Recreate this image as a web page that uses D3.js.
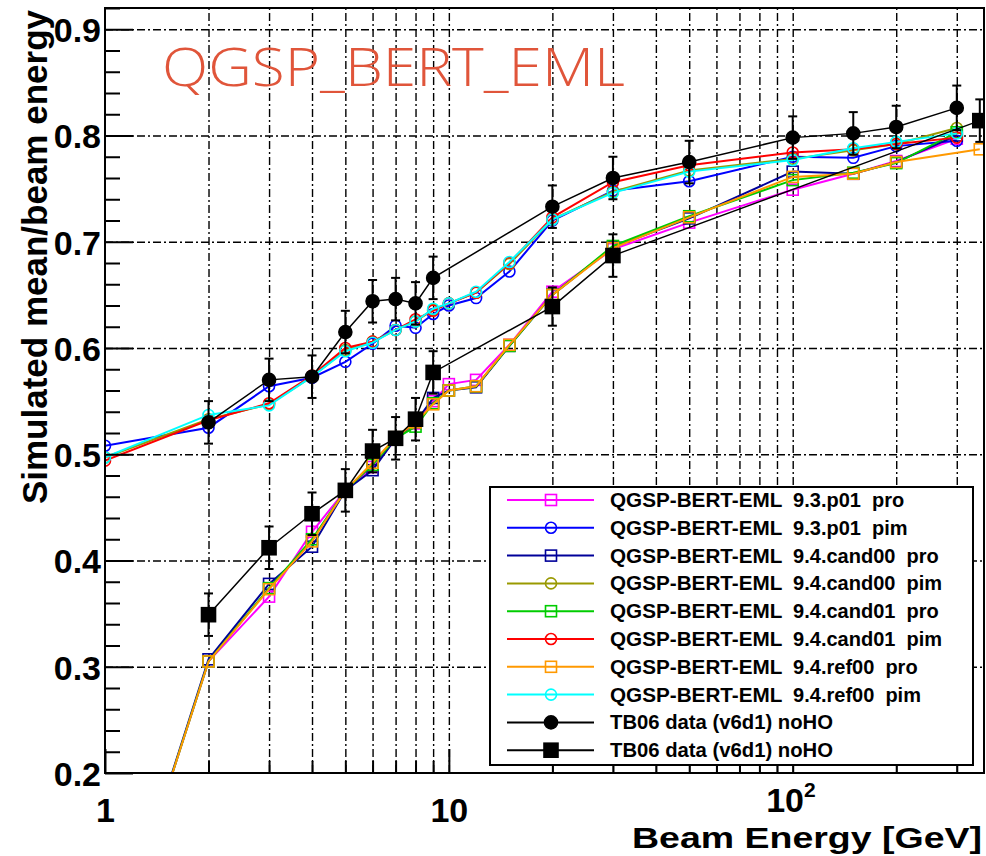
<!DOCTYPE html>
<html><head><meta charset="utf-8">
<script src="https://cdn.jsdelivr.net/npm/d3@7"></script>
<style>
html,body{margin:0;padding:0;background:#fff;}
svg{display:block;}
</style></head><body>
<svg id="c" width="986" height="856"></svg>
<script>
// ---------- data ----------
const simE    = [1,2,3,4,5,6,7,8,9,10,12,15,20,30,50,100,150,200,300];
const refProE = [1,2,3,4,5,6,7,8,9,10,12,15,20,30,50,100,150,200,350];

const p93_pro    = [0.003,0.305,0.366,0.427,0.466,0.488,0.514,0.529,0.550,0.566,0.570,0.603,0.653,0.693,0.718,0.749,0.764,0.776,0.797];
const p93_pim    = [0.508,0.525,0.564,0.572,0.587,0.604,0.621,0.619,0.632,0.640,0.647,0.672,0.720,0.748,0.757,0.780,0.779,0.790,0.795];
const c00_pro    = [0.003,0.307,0.378,0.413,0.466,0.485,0.515,0.530,0.553,0.560,0.563,0.602,0.650,0.695,0.722,0.766,0.764,0.775,0.800];
const c00_pim    = [0.497,0.533,0.547,0.573,0.598,0.606,0.617,0.625,0.636,0.642,0.652,0.679,0.721,0.747,0.767,0.778,0.786,0.792,0.807];
const c01_pro    = [0.003,0.305,0.374,0.420,0.466,0.490,0.515,0.526,0.548,0.560,0.564,0.602,0.650,0.696,0.724,0.758,0.765,0.774,0.803];
const c01_pim    = [0.494,0.532,0.548,0.574,0.600,0.606,0.617,0.627,0.635,0.642,0.652,0.680,0.723,0.756,0.772,0.784,0.787,0.792,0.798];
const ref00_pro  = [0.003,0.305,0.373,0.418,0.466,0.492,0.516,0.530,0.547,0.560,0.564,0.603,0.650,0.694,0.723,0.761,0.764,0.775,0.787];
const ref00_pim  = [0.497,0.537,0.546,0.573,0.597,0.605,0.617,0.625,0.637,0.642,0.653,0.681,0.721,0.746,0.766,0.777,0.788,0.794,0.802];

const tbCircE    = [2,3,4,5,6,7,8,9,20,30,50,100,150,200,300];
const tbCircV    = [0.530,0.570,0.573,0.615,0.644,0.646,0.642,0.666,0.733,0.760,0.775,0.798,0.802,0.808,0.826];
const tbCircErr  = [0.02,0.02,0.02,0.02,0.02,0.02,0.02,0.02,0.02,0.02,0.02,0.02,0.02,0.02,0.021];
const tbSqE      = [2,3,4,5,6,7,8,9,20,30,350];
const tbSqV      = [0.349,0.412,0.444,0.466,0.503,0.515,0.533,0.577,0.639,0.687,0.814];
const tbSqErr    = [0.02,0.02,0.02,0.02,0.02,0.02,0.02,0.02,0.018,0.02,0.02];

const legendLabels = [
  "QGSP-BERT-EML  9.3.p01  pro",
  "QGSP-BERT-EML  9.3.p01  pim",
  "QGSP-BERT-EML  9.4.cand00  pro",
  "QGSP-BERT-EML  9.4.cand00  pim",
  "QGSP-BERT-EML  9.4.cand01  pro",
  "QGSP-BERT-EML  9.4.cand01  pim",
  "QGSP-BERT-EML  9.4.ref00  pro",
  "QGSP-BERT-EML  9.4.ref00  pim",
  "TB06 data (v6d1) noHO",
  "TB06 data (v6d1) noHO"
];
const xMajorTicks = [1,10,100];
const xMinorTicks = [2,3,4,5,6,7,8,9,20,30,40,50,60,70,80,90,200,300];
const yMajorTicks = [0.2,0.3,0.4,0.5,0.6,0.7,0.8,0.9];
const titleText = "QGSP_BERT_EML";
const xTitle = "Beam Energy [GeV]";
const yTitle = "Simulated mean/beam energy";

// ---------- styles ----------
const seriesDefs = [
  {e: simE,    v: p93_pro,   color: "#ff00ff", marker: "sq"},
  {e: simE,    v: p93_pim,   color: "#0000ff", marker: "ci"},
  {e: simE,    v: c00_pro,   color: "#000099", marker: "sq"},
  {e: simE,    v: c00_pim,   color: "#999900", marker: "ci"},
  {e: simE,    v: c01_pro,   color: "#00cc00", marker: "sq"},
  {e: simE,    v: c01_pim,   color: "#ff0000", marker: "ci"},
  {e: refProE, v: ref00_pro, color: "#ff9900", marker: "sq"},
  {e: simE,    v: ref00_pim, color: "#00ffff", marker: "ci"}
];

// ---------- layout ----------
const L = 105, R = 984, T = 8, B = 773;
const svg = d3.select("#c");
const x = d3.scaleLog().domain([1, 360]).range([L, R]);
const y = d3.scaleLinear().domain([0.2, 0.92]).range([B, T]);
const font = "'Liberation Sans', Arial, Helvetica, sans-serif";

svg.append("defs").append("clipPath").attr("id","clip")
  .append("rect").attr("x",L).attr("y",T).attr("width",R-L).attr("height",B-T);

// grid
const dash = "8,3,2,3";
svg.append("g").attr("transform",`translate(0,${B})`)
  .call(d3.axisBottom(x).tickValues(xMinorTicks.concat([10,100]).sort((a,b)=>a-b)).tickSize(-(B-T)).tickFormat(""))
  .call(g=>g.select(".domain").remove())
  .selectAll("line").attr("stroke","#000").attr("stroke-width",1.4).attr("stroke-dasharray",dash);
svg.append("g").attr("transform",`translate(${L},0)`)
  .call(d3.axisLeft(y).tickValues(yMajorTicks.filter(v=>v>0.25)).tickSize(-(R-L)).tickFormat(""))
  .call(g=>g.select(".domain").remove())
  .selectAll("line").attr("stroke","#000").attr("stroke-width",1.4).attr("stroke-dasharray",dash);

// title
svg.append("text").attr("x",162).attr("y",86)
  .attr("font-family","'Open Sans', 'Noto Sans', sans-serif").attr("font-weight",300)
  .attr("font-size",54).attr("fill","#e0553a")
  .attr("textLength",463).attr("lengthAdjust","spacingAndGlyphs")
  .text(titleText);

// series
const plot = svg.append("g").attr("clip-path","url(#clip)");
const line = d3.line().x(d=>x(d.e)).y(d=>y(d.v));

function drawMarker(g, type, cx, cy, color, filled) {
  if (type === "sq") {
    const s = filled ? 14 : 11;
    g.append("rect").attr("x",cx-s/2).attr("y",cy-s/2).attr("width",s).attr("height",s)
      .attr("fill", filled ? color : "none").attr("stroke",color).attr("stroke-width",1.6);
  } else {
    const r = filled ? 6.5 : 5.5;
    g.append("circle").attr("cx",cx).attr("cy",cy).attr("r",r)
      .attr("fill", filled ? color : "none").attr("stroke",color).attr("stroke-width",1.6);
  }
}

seriesDefs.forEach(s => {
  const pts = s.e.map((e,i)=>({e, v: s.v[i]}));
  plot.append("path").datum(pts).attr("d",line)
    .attr("fill","none").attr("stroke",s.color).attr("stroke-width",2);
  const mg = plot.append("g");
  pts.forEach(p => drawMarker(mg, s.marker, x(p.e), y(p.v), s.color, false));
});

function drawData(E, V, Err, type) {
  const pts = E.map((e,i)=>({e, v: V[i], err: Err[i]}));
  plot.append("path").datum(pts).attr("d",line)
    .attr("fill","none").attr("stroke","#000").attr("stroke-width",1.5);
  const g = plot.append("g");
  pts.forEach(p => {
    const cx = x(p.e);
    g.append("line").attr("x1",cx).attr("x2",cx).attr("y1",y(p.v-p.err)).attr("y2",y(p.v+p.err))
      .attr("stroke","#000").attr("stroke-width",2);
    [p.v-p.err, p.v+p.err].forEach(v => g.append("line").attr("x1",cx-4.5).attr("x2",cx+4.5)
      .attr("y1",y(v)).attr("y2",y(v)).attr("stroke","#000").attr("stroke-width",2));
    drawMarker(g, type, cx, y(p.v), "#000", true);
  });
}
drawData(tbCircE, tbCircV, tbCircErr, "ci");
drawData(tbSqE, tbSqV, tbSqErr, "sq");

// axes ticks
const xMinorAxis = svg.append("g").attr("transform",`translate(0,${B})`)
  .call(d3.axisBottom(x).tickValues(xMinorTicks).tickSize(-12).tickFormat(""));
xMinorAxis.select(".domain").remove();
const xMajorAxis = svg.append("g").attr("transform",`translate(0,${B})`)
  .call(d3.axisBottom(x).tickValues(xMajorTicks).tickSize(-24).tickPadding(25)
    .tickFormat(d => d === 100 ? "10" : String(d)));
xMajorAxis.select(".domain").remove();
xMajorAxis.selectAll("text").attr("font-family",font).attr("font-weight","bold")
  .attr("font-size",34).attr("fill","#000").attr("y",0).attr("dy",0)
  .attr("transform",d => `translate(0,${(d === 100 ? 812 : 822)-B})`).each(function(d){
    if (d === 100) {
      const t = d3.select(this);
      t.attr("text-anchor","start").attr("x",-27);
      t.append("tspan").attr("font-size",21).attr("dy",-15).text("2");
    }
  });

const yMinor = d3.range(0, 37).map(i => +(0.2 + i*0.02).toFixed(2)).filter(v => v <= 0.92 && yMajorTicks.indexOf(v) < 0);
const yMinorAxis = svg.append("g").attr("transform",`translate(${L},0)`)
  .call(d3.axisLeft(y).tickValues(yMinor).tickSize(-15).tickFormat(""));
yMinorAxis.select(".domain").remove();
const yMajorAxis = svg.append("g").attr("transform",`translate(${L},0)`)
  .call(d3.axisLeft(y).tickValues(yMajorTicks).tickSize(-28).tickPadding(4).tickFormat(d3.format(".1f")));
yMajorAxis.select(".domain").remove();
yMajorAxis.selectAll("text").attr("font-family",font).attr("font-weight","bold")
  .attr("font-size",34).attr("fill","#000").attr("dy","0.36em");
svg.selectAll(".tick line").filter(function(){ return !this.getAttribute("stroke-dasharray"); })
  .attr("stroke","#000").attr("stroke-width",2);

// frame
svg.append("rect").attr("x",L).attr("y",T).attr("width",R-L).attr("height",B-T)
  .attr("fill","none").attr("stroke","#000").attr("stroke-width",2);

// axis titles
svg.append("text").attr("x",982).attr("y",848).attr("text-anchor","end")
  .attr("font-family",font).attr("font-weight","bold").attr("font-size",29)
  .attr("textLength",350).attr("lengthAdjust","spacingAndGlyphs").text(xTitle);
svg.append("text").attr("transform","translate(47,10) rotate(-90)").attr("text-anchor","end")
  .attr("font-family",font).attr("font-weight","bold").attr("font-size",35).text(yTitle);

// legend
const lg = svg.append("g");
lg.append("rect").attr("x",490).attr("y",487).attr("width",483).attr("height",278)
  .attr("fill","#fff").attr("stroke","#000").attr("stroke-width",2);
const legendStyles = seriesDefs.map(s=>({color:s.color, marker:s.marker, filled:false}))
  .concat([{color:"#000",marker:"ci",filled:true},{color:"#000",marker:"sq",filled:true}]);
legendLabels.forEach((lab,i) => {
  const cy = 500 + i*27.8;
  const st = legendStyles[i];
  lg.append("line").attr("x1",507).attr("x2",594).attr("y1",cy).attr("y2",cy)
    .attr("stroke",st.color).attr("stroke-width",2);
  drawMarker(lg, st.marker, 551, cy, st.color, st.filled);
  const t = lg.append("text").attr("x",610).attr("y",cy+7).attr("font-family",font)
    .attr("font-weight","bold").attr("font-size",20).attr("fill","#000")
    .style("white-space","pre");
  const k = lab.indexOf("  ");
  if (k > 0) {
    t.append("tspan").attr("textLength",172).attr("lengthAdjust","spacingAndGlyphs").text(lab.slice(0,k));
    t.append("tspan").text(lab.slice(k));
  } else {
    t.append("tspan").attr("textLength",223).attr("lengthAdjust","spacingAndGlyphs").text(lab);
  }
});
</script></body></html>
